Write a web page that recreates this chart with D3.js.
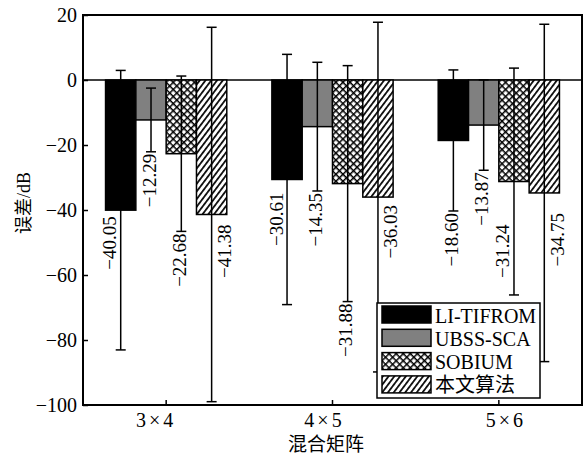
<!DOCTYPE html>
<html>
<head>
<meta charset="utf-8">
<script src="https://cdn.jsdelivr.net/npm/d3@7"></script>
<style>
  html, body { margin: 0; padding: 0; background: #fff; }
  svg { display: block; }
  text { font-family: 'Liberation Serif', 'Noto Sans CJK SC', serif; fill: #000; }
</style>
</head>
<body>
<svg id="chart" width="583" height="456"></svg>
<script>
// Mixing-matrix sizes on the x axis
const categories = ["3\u00d74", "4\u00d75", "5\u00d76"];
// Separation methods (legend order)
const seriesNames = ["LI-TIFROM", "UBSS-SCA", "SOBIUM", "本文算法"];
// Mean error (dB) per category, one value per method
const meanValues = [
  [-40.05, -12.29, -22.68, -41.38],
  [-30.61, -14.35, -31.88, -36.03],
  [-18.60, -13.87, -31.24, -34.75]
];
// Half-length of each error bar (dB)
const errorValues = [
  [43.0, 9.8, 23.9, 57.6],
  [38.5, 19.8, 36.3, 53.8],
  [21.7, 13.9, 34.9, 51.9]
];
const yTicks = [20, 0, -20, -40, -60, -80, -100];

// Where each value label sits: beside the bar or under the lower whisker
const labelSide = [
  ["left", "below", "below", "right"],
  ["left", "below", "below", "right"],
  ["below", "below", "left", "right"]
];
const labelGap = [
  [6, 2, 2, 10],
  [13, 2, 2, 8],
  [2, 2, 43, 20]
];
const tickLabelShift = [-10, -8, 7];

const svg = d3.select("#chart");
const margin = { left: 83, right: 1, top: 15, bottom: 51 };
const W = 583, H = 456;
const plotL = margin.left, plotR = W - margin.right, plotT = margin.top, plotB = H - margin.bottom;

const x0 = d3.scaleBand().domain(categories).range([plotL, plotR]).padding(0);
const x1 = d3.scaleBand().domain(seriesNames).range([0, x0.bandwidth()]).paddingInner(0).paddingOuter(0.744);
const y = d3.scaleLinear().domain([-100, 20]).range([plotB, plotT]);

// Fill patterns
const defs = svg.append("defs");
const cross = defs.append("pattern").attr("id", "pat-cross")
  .attr("patternUnits", "userSpaceOnUse").attr("width", 5).attr("height", 5)
  .attr("patternTransform", "rotate(45)");
cross.append("rect").attr("width", 5).attr("height", 5).attr("fill", "#fff");
cross.append("line").attr("x1", 0).attr("y1", 0).attr("x2", 0).attr("y2", 5).attr("stroke", "#000").attr("stroke-width", 3);
cross.append("line").attr("x1", 0).attr("y1", 0).attr("x2", 5).attr("y2", 0).attr("stroke", "#000").attr("stroke-width", 3);

const hatch = defs.append("pattern").attr("id", "pat-hatch")
  .attr("patternUnits", "userSpaceOnUse").attr("width", 4.6).attr("height", 10)
  .attr("patternTransform", "rotate(37)");
hatch.append("rect").attr("width", 4.6).attr("height", 10).attr("fill", "#fff");
hatch.append("line").attr("x1", 0.9).attr("y1", 0).attr("x2", 0.9).attr("y2", 10).attr("stroke", "#000").attr("stroke-width", 1.7);

const fills = ["#000", "#808080", "url(#pat-cross)", "url(#pat-hatch)"];
const color = d3.scaleOrdinal().domain(seriesNames).range(fills);

// Zero reference line
svg.append("line")
  .attr("x1", plotL).attr("x2", plotR).attr("y1", y(0)).attr("y2", y(0))
  .attr("stroke", "#000").attr("stroke-width", 1.5);

// Rows of bar data
const rows = [];
categories.forEach((c, ci) => {
  seriesNames.forEach((s, si) => {
    rows.push({ c, ci, s, si, v: meanValues[ci][si], e: errorValues[ci][si] });
  });
});
const cx = d => x0(d.c) + x1(d.s) + x1.bandwidth() / 2;

svg.append("g").selectAll("rect").data(rows).join("rect")
  .attr("x", d => x0(d.c) + x1(d.s))
  .attr("width", x1.bandwidth())
  .attr("y", d => y(Math.max(0, d.v)))
  .attr("height", d => Math.abs(y(d.v) - y(0)))
  .attr("fill", d => color(d.s))
  .attr("stroke", "#000").attr("stroke-width", 1.5);

// Error bars
const eb = svg.append("g").attr("stroke", "#000").attr("stroke-width", 1.5);
eb.selectAll("line.v").data(rows).join("line").attr("class", "v")
  .attr("x1", cx).attr("x2", cx)
  .attr("y1", d => y(d.v + d.e)).attr("y2", d => y(d.v - d.e));
eb.selectAll("line.t").data(rows).join("line").attr("class", "t")
  .attr("x1", d => cx(d) - 5).attr("x2", d => cx(d) + 5)
  .attr("y1", d => y(d.v + d.e)).attr("y2", d => y(d.v + d.e));
eb.selectAll("line.b").data(rows).join("line").attr("class", "b")
  .attr("x1", d => cx(d) - 5).attr("x2", d => cx(d) + 5)
  .attr("y1", d => y(d.v - d.e)).attr("y2", d => y(d.v - d.e));

// Value labels, rotated to read upwards
const fmt = d3.format(".2f");
svg.append("g").selectAll("text").data(rows).join("text")
  .each(function (d) {
    const side = labelSide[d.ci][d.si];
    const gap = labelGap[d.ci][d.si];
    let lx, ly;
    if (side === "below") { lx = cx(d) - 2; ly = y(d.v - d.e) + gap; }
    else if (side === "left") { lx = cx(d) - 11; ly = y(d.v) + gap; }
    else { lx = cx(d) + 13; ly = y(d.v) + gap; }
    d3.select(this)
      .attr("transform", `translate(${lx},${ly}) rotate(-90)`)
      .attr("text-anchor", "end")
      .attr("dominant-baseline", "central")
      .attr("font-size", 19)
      .text(fmt(d.v).replace("-", "\u2212"));
  });

// Axes
const yAxis = d3.axisLeft(y).tickValues(yTicks).tickSize(-5).tickPadding(6)
  .tickFormat(d => d3.format("d")(d).replace("-", "\u2212"));
const gy = svg.append("g").attr("transform", `translate(${plotL},0)`).call(yAxis);
gy.select(".domain").remove();
gy.selectAll(".tick line").attr("stroke", "#000").attr("stroke-width", 1.5);
gy.selectAll(".tick text").attr("font-size", 20)
  .attr("font-family", "'Liberation Serif', serif");

const xAxis = d3.axisBottom(x0).tickSize(-5).tickPadding(8);
const gx = svg.append("g").attr("transform", `translate(0,${plotB})`).call(xAxis);
gx.select(".domain").remove();
gx.selectAll(".tick line").attr("stroke", "#000").attr("stroke-width", 1.5);
gx.selectAll(".tick text").attr("font-size", 20)
  .attr("font-family", "'Liberation Serif', serif")
  .attr("letter-spacing", 3)
  .attr("dx", (d, i) => tickLabelShift[i]);

// Frame
svg.append("rect")
  .attr("x", plotL).attr("y", plotT)
  .attr("width", plotR - plotL).attr("height", plotB - plotT)
  .attr("fill", "none").attr("stroke", "#000").attr("stroke-width", 2);

// Axis titles
svg.append("text")
  .attr("transform", `translate(24,203) rotate(-90)`)
  .attr("text-anchor", "middle").attr("dominant-baseline", "central")
  .attr("font-size", 18).text("误差/dB");
svg.append("text")
  .attr("x", 326).attr("y", 451)
  .attr("text-anchor", "middle")
  .attr("font-size", 19).text("混合矩阵");

// Legend
const lg = svg.append("g");
lg.append("rect").attr("x", 377).attr("y", 303).attr("width", 163).attr("height", 95)
  .attr("fill", "#fff").attr("stroke", "#000").attr("stroke-width", 1.5);
const item = lg.selectAll("g.item").data(seriesNames).join("g").attr("class", "item")
  .attr("transform", (d, i) => `translate(382,${306 + i * 23.3})`);
item.append("rect").attr("width", 49).attr("height", 17)
  .attr("fill", d => color(d)).attr("stroke", "#000").attr("stroke-width", 1.5);
item.append("text").attr("x", 53).attr("y", 16.5)
  .attr("font-size", 20).text(d => d);
</script>
</body>
</html>
